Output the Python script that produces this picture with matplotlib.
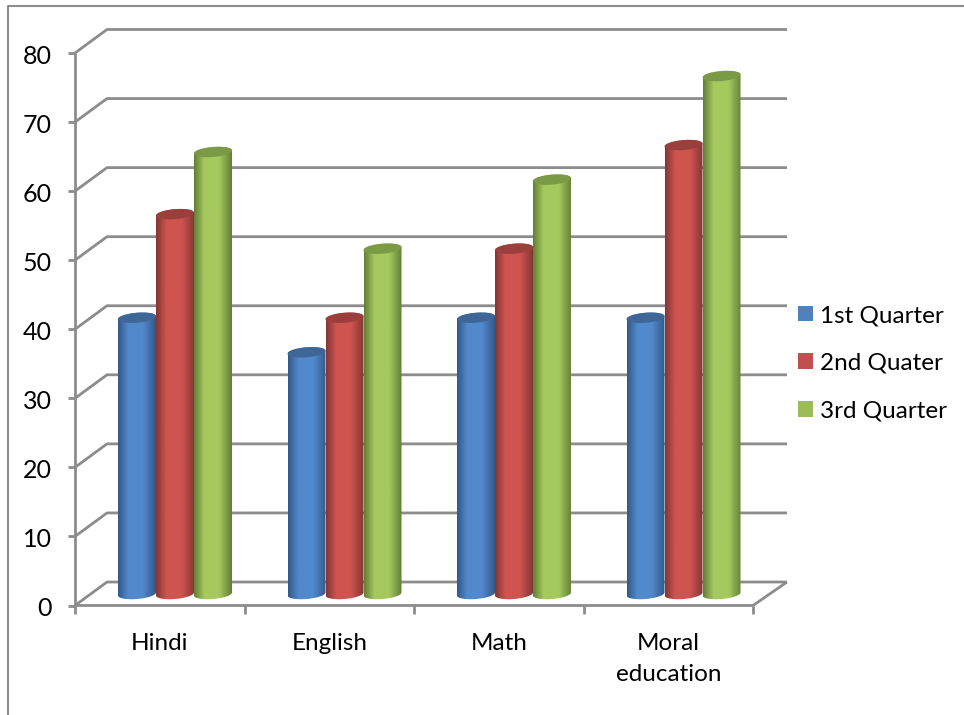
import numpy as np
import matplotlib
matplotlib.use("Agg")
import matplotlib.pyplot as plt
from matplotlib.colors import LinearSegmentedColormap
from matplotlib.patches import PathPatch, Patch
from matplotlib.path import Path

categories = ["Hindi", "English", "Math", "Moral\neducation"]
series_names = ["1st Quarter", "2nd Quater", "3rd Quarter"]
q1_values = [40, 35, 40, 40]
q2_values = [55, 40, 50, 65]
q3_values = [64, 50, 60, 75]
y_ticks = [0, 10, 20, 30, 40, 50, 60, 70, 80]

# edge, mid and top-cap shades of each cylinder series
edge_colors = ["#33598a", "#843735", "#637f37"]
mid_colors = ["#5289cc", "#cf5450", "#a6c95f"]
cap_colors = ["#3e6797", "#9a3f3c", "#7a9a45"]
legend_colors = ["#4f81bd", "#c0504d", "#9bbb59"]

W, H = 964, 715
plt.rcParams["font.family"] = ["Lato", "DejaVu Sans"]
fig = plt.figure(figsize=(W / 100, H / 100), dpi=100)

# front plane of the 3D box
left, right, bottom, top = 75, 753, 605.5, 53
ax = fig.add_axes([left / W, 1 - bottom / H, (right - left) / W, (bottom - top) / H])
ax.set_xlim(0, 4)
ax.set_ylim(0, 80)
ax.axis("off")

px_x = 4 / (right - left)
px_y = 80 / (bottom - top)
depth_x = 32 * px_x
depth_y = 23.5 * px_y
back_right = 4 + 34 * px_x
GRAY = "#8c8c8c"
line = dict(color=GRAY, lw=2.0, clip_on=False, solid_capstyle="butt", zorder=1)

# walls, floor and ticks
for v in y_ticks:
    ax.plot([0, depth_x, back_right], [v, v + depth_y, v + depth_y], **line)
    ax.plot([-7 * px_x, 0], [v, v], **line)
ax.plot([0, 0], [0, 80], **line)
ax.plot([0, 4, back_right], [0, 0, depth_y], **line)
for i in range(5):
    ax.plot([i, i], [0, -8 * px_y], **line)

for v in y_ticks:
    ax.text(-23.5 * px_x, v - 3.5 * px_y, str(v), ha="right", va="center", fontsize=18, color="black", clip_on=False)
for i, c in enumerate(categories):
    ax.text(i + 0.5, -27 * px_y, c, ha="center", va="top", fontsize=17.5, linespacing=1.6, clip_on=False)

# cylinders
bar_w = 38 * px_x
first = 43 * px_x
base = 11.5 * px_y
cap_b = 5 * px_y
cap_tilt = 1.5 * px_y
t = np.linspace(0, 2 * np.pi, 73)


def ring(cx, cy):
    return cx + bar_w / 2 * np.cos(t), cy + cap_b * np.sin(t) + cap_tilt * np.cos(t)


for j, values in enumerate([q1_values, q2_values, q3_values]):
    cmap = LinearSegmentedColormap.from_list(
        "shade", [(0, edge_colors[j]), (0.27, mid_colors[j]), (0.66, mid_colors[j]), (1, edge_colors[j])]
    )
    for i, v in enumerate(values):
        x0 = i + first + j * bar_w
        cx = x0 + bar_w / 2
        top_y = v + base
        # body outline: lower half of the base ring, then straight up to the top ring
        lower = t[t >= np.pi]
        bx = cx + bar_w / 2 * np.cos(lower)
        by = base + cap_b * np.sin(lower) + cap_tilt * np.cos(lower)
        upper = np.linspace(0, np.pi, 37)
        ux = cx + bar_w / 2 * np.cos(upper)
        uy = top_y + cap_b * np.sin(upper) + cap_tilt * np.cos(upper)
        body = Path(np.column_stack([np.r_[bx, ux], np.r_[by, uy]]))
        im = ax.imshow(
            np.linspace(0, 1, 64)[None, :],
            extent=[x0, x0 + bar_w, base - 2 * cap_b, top_y + 2 * cap_b],
            aspect="auto", cmap=cmap, zorder=2 + j, interpolation="bilinear",
        )
        im.set_clip_path(PathPatch(body, transform=ax.transData))
        rx, ry = ring(cx, top_y)
        ax.fill(rx, ry, color=cap_colors[j], lw=0, zorder=2 + j, clip_on=False)
ax.set_xlim(0, 4)
ax.set_ylim(0, 80)

handles = [Patch(facecolor=c, edgecolor="none") for c in legend_colors]
fig.legend(
    handles, series_names, loc="upper left", bbox_to_anchor=(798 / W, 1 - 305 / H),
    bbox_transform=fig.transFigure, frameon=False, fontsize=17.5, borderpad=0, borderaxespad=0,
    handlelength=0.62, handleheight=0.62, handletextpad=0.29, labelspacing=1.1,
)

# chart area outline, open at the right and bottom
fig.add_artist(plt.Line2D([8 / W, 8 / W, 1], [0, 1 - 6 / H, 1 - 6 / H], color=GRAY, lw=1.5))

fig.savefig("out.png", dpi=100)
